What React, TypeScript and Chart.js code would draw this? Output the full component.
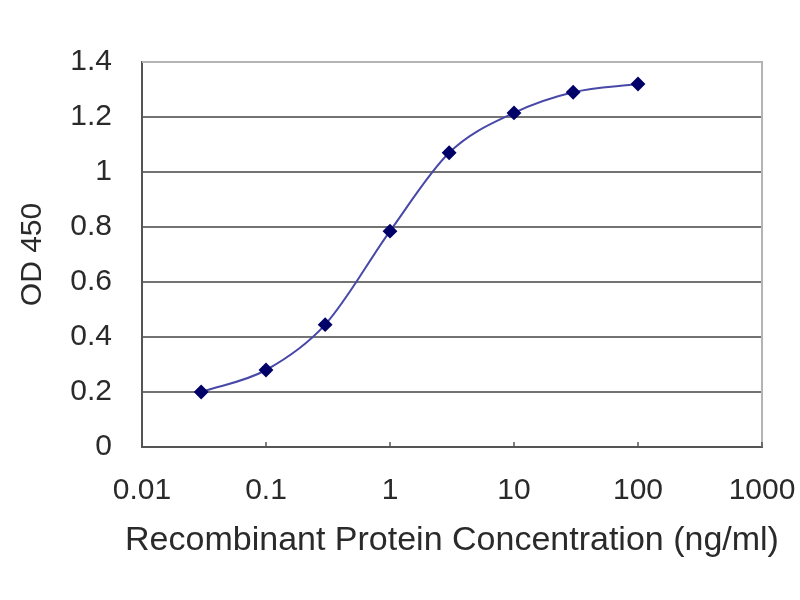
import { useEffect, useRef } from "react";
import { Chart, registerables, type ChartConfiguration, type Plugin } from "chart.js";

Chart.register(...registerables);

// Concentration (ng/ml) and OD 450 readings
const concentrations = [0.03, 0.1, 0.3, 1, 3, 10, 30, 100];
const odValues = [0.2, 0.28, 0.445, 0.785, 1.07, 1.215, 1.29, 1.32];
const xTicks = [0.01, 0.1, 1, 10, 100, 1000];
const xTickLabels = ["0.01", "0.1", "1", "10", "100", "1000"];
const xTitle = "Recombinant Protein Concentration (ng/ml)";

const family = "'Liberation Sans', Arial, sans-serif";

// light top/right frame, small inward tick marks on the x axis, and the
// x title (drawn here because Chart.js squeezes scale titles to the axis width)
const framePlugin: Plugin<"line"> = {
  id: "frame",
  afterDraw(chart) {
    const { ctx, chartArea } = chart;
    const x = chart.scales.x;
    ctx.save();
    ctx.strokeStyle = "#b4b4b4";
    ctx.lineWidth = 2;
    ctx.beginPath();
    ctx.moveTo(chartArea.left, chartArea.top);
    ctx.lineTo(chartArea.right, chartArea.top);
    ctx.lineTo(chartArea.right, chartArea.bottom);
    ctx.stroke();
    ctx.strokeStyle = "#555";
    ctx.lineWidth = 1.5;
    xTicks.forEach((v) => {
      const px = x.getPixelForValue(v);
      ctx.beginPath();
      ctx.moveTo(px, chartArea.bottom);
      ctx.lineTo(px, chartArea.bottom - 5);
      ctx.stroke();
    });
    ctx.fillStyle = "#2a2a2a";
    ctx.font = `34px ${family}`;
    ctx.textAlign = "center";
    ctx.textBaseline = "middle";
    ctx.fillText(xTitle, (chartArea.left + chartArea.right) / 2, 541);
    ctx.restore();
  },
};

export default function App() {
  const canvasRef = useRef<HTMLCanvasElement>(null);
  const chartRef = useRef<Chart | null>(null);

  useEffect(() => {
    document.body.style.margin = "0";
    if (!canvasRef.current) return;
    const ctx = canvasRef.current.getContext("2d");
    if (!ctx) return;

    if (chartRef.current) {
      chartRef.current.destroy();
    }

    const tickFont = { family, size: 30 };

    const config: ChartConfiguration<"line"> = {
      type: "line",
      data: {
        datasets: [
          {
            data: concentrations.map((c, i) => ({ x: c, y: odValues[i] })),
            borderColor: "#4848a8",
            borderWidth: 2,
            cubicInterpolationMode: "monotone",
            pointStyle: "rectRot",
            pointRadius: 6,
            pointBackgroundColor: "#000068",
            pointBorderColor: "#000068",
            fill: false,
          },
        ],
      },
      options: {
        animation: false,
        responsive: false,
        layout: { padding: { top: 62, right: 38, left: 0, bottom: 0 } },
        plugins: {
          legend: { display: false },
          tooltip: { enabled: false },
        },
        scales: {
          x: {
            type: "logarithmic",
            min: 0.01,
            max: 1000,
            afterBuildTicks: (scale) => {
              scale.ticks = xTicks.map((v) => ({ value: v }));
            },
            afterFit: (scale) => {
              scale.height = 153;
              scale.paddingLeft = 0;
              scale.paddingRight = 0;
            },
            ticks: {
              color: "#2a2a2a",
              font: tickFont,
              padding: 26,
              autoSkip: false,
              maxRotation: 0,
              callback: (v) => xTickLabels[xTicks.indexOf(Number(v))] ?? "",
            },
            grid: { display: false, drawTicks: false },
            border: { color: "#555", width: 2 },
          },
          y: {
            min: 0,
            max: 1.4,
            afterFit: (scale) => {
              scale.width = 142;
              scale.paddingTop = 0;
              scale.paddingBottom = 0;
            },
            ticks: {
              stepSize: 0.2,
              color: "#2a2a2a",
              font: tickFont,
              padding: 30,
              callback: (v) => String(parseFloat(Number(v).toFixed(1))),
            },
            grid: { color: "#737373", lineWidth: 2, drawTicks: false },
            border: { color: "#555", width: 2 },
            title: {
              display: true,
              text: "OD 450",
              color: "#2a2a2a",
              font: tickFont,
              padding: { top: 15, bottom: 15 },
            },
          },
        },
      },
      plugins: [framePlugin],
    };

    chartRef.current = new Chart(ctx, config);

    return () => {
      if (chartRef.current) {
        chartRef.current.destroy();
      }
    };
  }, []);

  return (
    <div style={{ width: 800, height: 600, background: "#fff" }}>
      <canvas ref={canvasRef} width={800} height={600} />
    </div>
  );
}
